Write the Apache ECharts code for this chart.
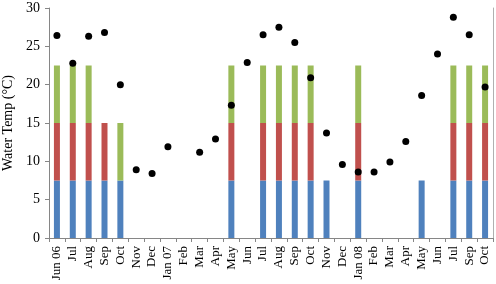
<!DOCTYPE html>
<html>
<head>
<meta charset="utf-8">
<script src="https://cdn.jsdelivr.net/npm/echarts@6/dist/echarts.min.js"></script>
<style>
html, body { margin: 0; padding: 0; background: #fff; }
#chart { width: 496px; height: 284px; }
</style>
</head>
<body>
<div id="chart"></div>
<script>
// months, Jun 2006 .. Oct 2008 (no Aug 08)
var months = ['Jun 06', 'Jul', 'Aug', 'Sep', 'Oct', 'Nov', 'Dec', 'Jan 07', 'Feb', 'Mar', 'Apr', 'May',
    'Jun', 'Jul', 'Aug', 'Sep', 'Oct', 'Nov', 'Dec', 'Jan 08', 'Feb', 'Mar', 'Apr', 'May',
    'Jun', 'Jul', 'Sep', 'Oct'];

// stacked bar segments (null = no segment)
var blueSeg = [7.5, 7.5, 7.5, 7.5, 7.5, null, null, null, null, null, null, 7.5,
    null, 7.5, 7.5, 7.5, 7.5, 7.5, null, 7.5, null, null, null, 7.5,
    null, 7.5, 7.5, 7.5];
var redSeg = [7.5, 7.5, 7.5, 7.5, null, null, null, null, null, null, null, 7.5,
    null, 7.5, 7.5, 7.5, 7.5, null, null, 7.5, null, null, null, null,
    null, 7.5, 7.5, 7.5];
var greenSeg = [7.5, 7.5, 7.5, null, 7.5, null, null, null, null, null, null, 7.5,
    null, 7.5, 7.5, 7.5, 7.5, null, null, 7.5, null, null, null, null,
    null, 7.5, 7.5, 7.5];

// water temperature dots
var waterTemp = [26.4, 22.8, 26.3, 26.8, 20.0, 8.9, 8.4, 11.9, null, 11.2, 12.9, 17.3,
    22.9, 26.5, 27.5, 25.5, 20.9, 13.7, 9.6, 8.6, 8.6, 9.9, 12.6, 18.6,
    24.0, 28.8, 26.5, 19.7];

var yTicks = [0, 5, 10, 15, 20, 25, 30];

var font = '"Liberation Serif", "Times New Roman", serif';
var axisGray = '#868686';

var myChart = echarts.init(document.getElementById('chart'));

function barSeries(name, data, color) {
    return {
        name: name,
        type: 'bar',
        stack: 'seg',
        barWidth: 6,
        data: data,
        itemStyle: { color: color }
    };
}

myChart.setOption({
    animation: false,
    textStyle: { fontFamily: font },
    grid: { left: 49, right: 3, top: 8, bottom: 46, containLabel: false, outerBoundsMode: 'none' },
    xAxis: {
        type: 'category',
        data: months,
        boundaryGap: true,
        axisLine: { lineStyle: { color: axisGray } },
        axisTick: { show: true, length: 4, lineStyle: { color: axisGray } },
        axisLabel: {
            rotate: 90,
            interval: 0,
            margin: 8,
            color: '#000',
            fontFamily: font,
            fontSize: 13
        }
    },
    yAxis: [{
        type: 'value',
        min: yTicks[0],
        max: yTicks[yTicks.length - 1],
        interval: 5,
        name: 'Water Temp (°C)',
        nameLocation: 'middle',
        nameGap: 32,
        nameTextStyle: { color: '#000', fontFamily: font, fontSize: 14 },
        axisLine: { show: true, lineStyle: { color: axisGray } },
        axisTick: { show: true, length: 4, lineStyle: { color: axisGray } },
        axisLabel: { color: '#000', fontFamily: font, fontSize: 14, margin: 9 },
        splitLine: { show: false }
    }, {
        type: 'value',
        position: 'right',
        min: 0,
        max: 30,
        interval: 5,
        axisLine: { show: true, lineStyle: { color: '#b0b0b0' } },
        axisTick: { show: false },
        axisLabel: { show: false },
        splitLine: { show: false }
    }],
    series: [
        barSeries('blue', blueSeg, '#4F81BD'),
        barSeries('red', redSeg, '#C0504D'),
        barSeries('green', greenSeg, '#9BBB59'),
        {
            name: 'Water Temp',
            type: 'scatter',
            data: waterTemp,
            symbol: 'circle',
            symbolSize: 7,
            itemStyle: { color: '#000', opacity: 1 },
            z: 5
        }
    ]
});
</script>
</body>
</html>
